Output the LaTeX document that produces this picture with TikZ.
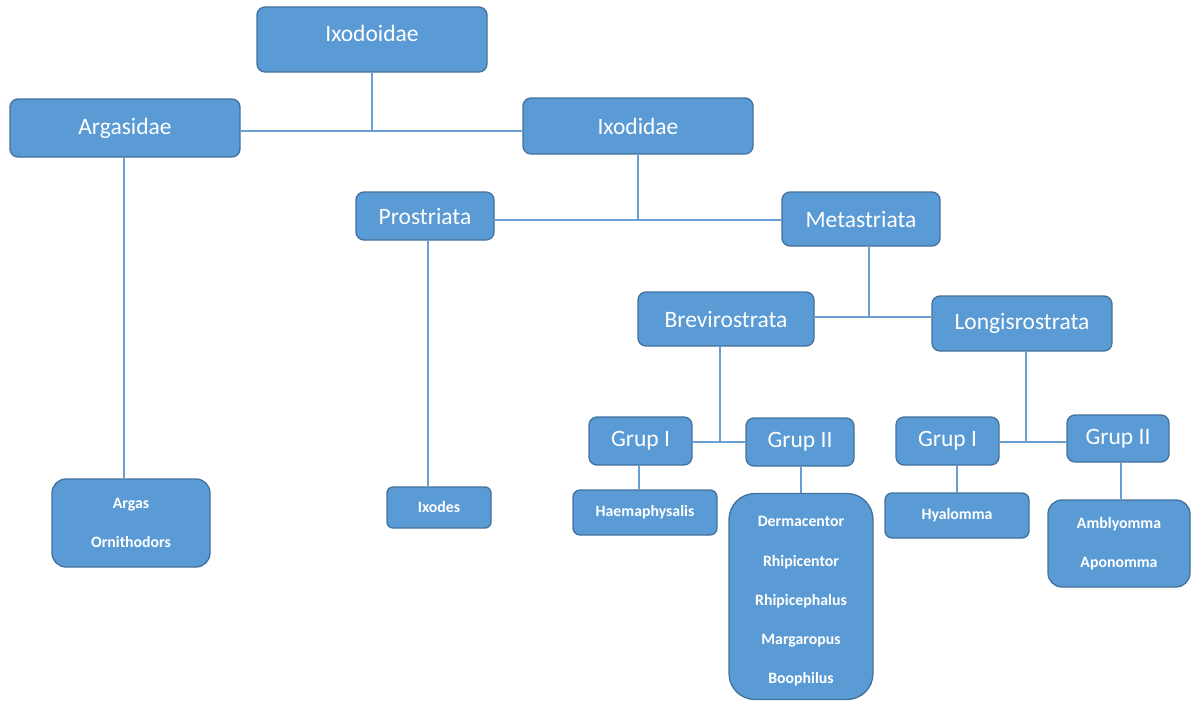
\documentclass[tikz,border=0pt]{standalone}
\usepackage{fontspec}
\setmainfont{Carlito}
\usetikzlibrary{backgrounds}
\definecolor{boxfill}{HTML}{5B9BD5}
\definecolor{boxedge}{HTML}{41719C}
\definecolor{linkcol}{HTML}{6A9FD6}
\tikzset{
  box/.style={draw=boxedge, line width=1.3pt, fill=boxfill, rounded corners=8pt,
    text=white, inner sep=0pt, font=\fontsize{23.5}{28}\selectfont, align=center},
  leaf/.style={box, font=\bfseries\fontsize{15.8}{39.2}\selectfont},
  link/.style={draw=linkcol, line width=1.8pt}
}
\begin{document}
\begin{tikzpicture}[x=1pt,y=-1pt]
\useasboundingbox (0,0) rectangle (1192,702);
% level nodes
\node[box, minimum width=230, minimum height=65, text depth=13pt] (ixodoidae) at (372,39.5) {Ixodoidae};
\node[box, minimum width=230, minimum height=58] (argasidae) at (125,128) {Argasidae};
\node[box, minimum width=230, minimum height=56] (ixodidae) at (638,126) {Ixodidae};
\node[box, minimum width=138, minimum height=48] (prostriata) at (425,216) {Prostriata};
\node[box, minimum width=158, minimum height=54] (metastriata) at (861,219) {Metastriata};
\node[box, minimum width=176, minimum height=54] (brevi) at (726,319) {Brevirostrata};
\node[box, minimum width=180, minimum height=55] (longi) at (1022,323.5) {Longisrostrata};
\node[box, minimum width=103, minimum height=48] (grupIa) at (640.5,441) {Grup I};
\node[box, minimum width=108, minimum height=48] (grupIIa) at (800,442) {Grup II};
\node[box, minimum width=103, minimum height=48] (grupIb) at (947.5,441) {Grup I};
\node[box, minimum width=102, minimum height=47] (grupIIb) at (1118,438.5) {Grup II};
% leaves
\node[leaf, minimum width=158, minimum height=88, rounded corners=14pt] (argas) at (131,523) {Argas\\Ornithodors};
\node[leaf, minimum width=104, minimum height=41, rounded corners=6pt] (ixodes) at (439,507.5) {Ixodes};
\node[leaf, minimum width=144, minimum height=45, rounded corners=7pt] (haema) at (645,512.5) {Haemaphysalis};
\node[leaf, minimum width=144, minimum height=206, rounded corners=26pt] (derma) at (801,596.5) {\rule{0pt}{20pt}Dermacentor\\Rhipicentor\\Rhipicephalus\\Margaropus\\Boophilus};
\node[leaf, minimum width=144, minimum height=45, rounded corners=7pt] (hyal) at (957,515.5) {Hyalomma};
\node[leaf, minimum width=142, minimum height=87, rounded corners=14pt] (ambly) at (1119,543.5) {Amblyomma\\Aponomma};
% junctions
\coordinate (j1) at (372,131);
\coordinate (j2) at (638,220);
\coordinate (j3) at (869,317);
\coordinate (j4) at (720,442);
\coordinate (j5) at (1026,442);
\begin{scope}[on background layer]
\draw[link] (ixodoidae.south) -- (j1);
\draw[link] (argasidae.east |- j1) -- (ixodidae.west |- j1);
\draw[link] (ixodidae.south) -- (j2);
\draw[link] (prostriata.east |- j2) -- (metastriata.west |- j2);
\draw[link] (j3 |- metastriata.south) -- (j3);
\draw[link] (brevi.east |- j3) -- (longi.west |- j3);
\draw[link] (j4 |- brevi.south) -- (j4);
\draw[link] (grupIa.east |- j4) -- (grupIIa.west |- j4);
\draw[link] (j5 |- longi.south) -- (j5);
\draw[link] (grupIb.east |- j5) -- (grupIIb.west |- j5);
\draw[link] ([xshift=-1]argasidae.south) -- ([xshift=-1]argasidae.south |- argas.north);
\draw[link] ([xshift=3]prostriata.south) -- ([xshift=3]prostriata.south |- ixodes.north);
\draw[link] ([xshift=-1.5]grupIa.south) -- ([xshift=-1.5]grupIa.south |- haema.north);
\draw[link] ([xshift=1]grupIIa.south) -- ([xshift=1]grupIIa.south |- derma.north);
\draw[link] (hyal.north |- grupIb.south) -- (hyal.north);
\draw[link] ([xshift=2]ambly.north |- grupIIb.south) -- ([xshift=2]ambly.north);
\end{scope}
\end{tikzpicture}
\end{document}
